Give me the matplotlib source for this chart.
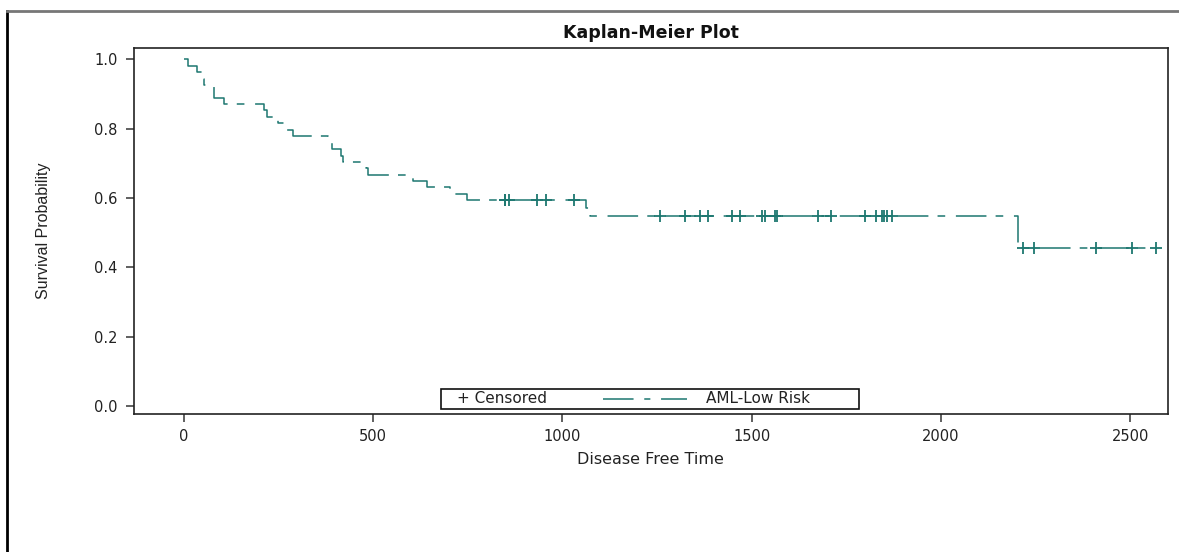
import numpy as np
import matplotlib
matplotlib.use('Agg')
import matplotlib.pyplot as plt
from matplotlib.lines import Line2D
from matplotlib.offsetbox import AnchoredOffsetbox, HPacker, TextArea, DrawingArea

# Kaplan-Meier steps (AML-Low Risk)
event_times = [10, 35, 48, 53, 79, 80, 105, 211, 219, 248, 272, 288, 381, 390,
               414, 421, 481, 486, 606, 641, 704, 748, 1063, 1074, 2204]
survival = [0.981, 0.963, 0.944, 0.926, 0.907, 0.889, 0.870, 0.852, 0.833,
            0.815, 0.796, 0.778, 0.759, 0.741, 0.722, 0.704, 0.685, 0.667,
            0.648, 0.630, 0.611, 0.593, 0.570, 0.547, 0.456]
censored_times = [847, 848, 860, 932, 957, 1030, 1258, 1324, 1363, 1384, 1447,
                  1470, 1527, 1535, 1562, 1568, 1674, 1709, 1799, 1829, 1843,
                  1850, 1857, 1870, 2218, 2246, 2409, 2506, 2569]
x_ticks = [0, 500, 1000, 1500, 2000, 2500]
y_ticks = [0.0, 0.2, 0.4, 0.6, 0.8, 1.0]

teal = '#1d7770'
dash = (20, 6, 5, 7)

plt.rcParams['font.family'] = ['DejaVu Sans']

fig = plt.figure(figsize=(11.79, 5.52), dpi=100)
ax = fig.add_axes([0.1137, 0.25, 0.877, 0.663])

# step curve
xs = [0] + event_times + [max(censored_times)]
ys = [1.0] + survival + [survival[-1]]
ax.step(xs, ys, where='post', color=teal, lw=1.1, dashes=dash)

# censored marks sit on the curve
idx = np.searchsorted(event_times, censored_times, side='right') - 1
cens_y = [survival[i] if i >= 0 else 1.0 for i in idx]
ax.plot(censored_times, cens_y, linestyle='None', marker='+', color=teal,
        ms=9, mew=1.3)

ax.set_xlim(-132, 2600)
ax.set_ylim(-0.023, 1.032)
ax.set_xticks(x_ticks)
ax.set_xticklabels([str(t) for t in x_ticks])
ax.set_yticks(y_ticks)
ax.set_yticklabels([f'{t:.1f}' for t in y_ticks])
ax.tick_params(direction='out', length=6, width=1.2, color='#444',
               labelsize=10.5, labelcolor='#222')
ax.tick_params(axis='x', pad=5)
ax.tick_params(axis='y', pad=6)
for s in ax.spines.values():
    s.set_color('#222')
    s.set_linewidth(1.2)

fig.text(0.552, 0.94, 'Kaplan-Meier Plot', ha='center', va='center',
         fontsize=12.5, fontweight='bold', color='#111')
fig.text(0.552, 0.168, 'Disease Free Time', ha='center', va='center',
         fontsize=11.5, color='#222')
fig.text(0.037, 0.582, 'Survival Probability', ha='center', va='center',
         rotation=90, fontsize=11.5, color='#222',
         family=['Liberation Sans', 'DejaVu Sans'])

# legend built by hand: "+ Censored   —— - ——  AML-Low Risk"
txt_cens = TextArea('+ Censored', textprops=dict(size=11, color='#222'))
txt_aml = TextArea('AML-Low Risk', textprops=dict(size=11, color='#222'))
da = DrawingArea(61, 8, 0, 0)
da.add_artist(Line2D([0, 61], [4, 4], color=teal, lw=1.1, dashes=(20, 7, 4, 7)))
row = HPacker(children=[DrawingArea(10, 1, 0, 0), txt_cens, DrawingArea(40, 1, 0, 0),
                        da, DrawingArea(13, 1, 0, 0), txt_aml, DrawingArea(34, 1, 0, 0)],
              align='center', pad=0, sep=0)
leg = AnchoredOffsetbox(loc='lower center', child=row, pad=0.18, borderpad=0,
                        frameon=True, bbox_to_anchor=(0.499, 0.014),
                        bbox_transform=ax.transAxes)
leg.patch.set_edgecolor('#111')
leg.patch.set_linewidth(1.2)
leg.patch.set_boxstyle('square', pad=0)
ax.add_artist(leg)

# outer frame (left and top edges visible)
fig.add_artist(Line2D([7.5 / 1179, 7.5 / 1179], [0, 1 - 11 / 552],
                      transform=fig.transFigure, color='black', lw=2))
fig.add_artist(Line2D([7.5 / 1179, 1], [1 - 11 / 552, 1 - 11 / 552],
                      transform=fig.transFigure, color='#777', lw=2))

fig.savefig('out.png', dpi=100)
